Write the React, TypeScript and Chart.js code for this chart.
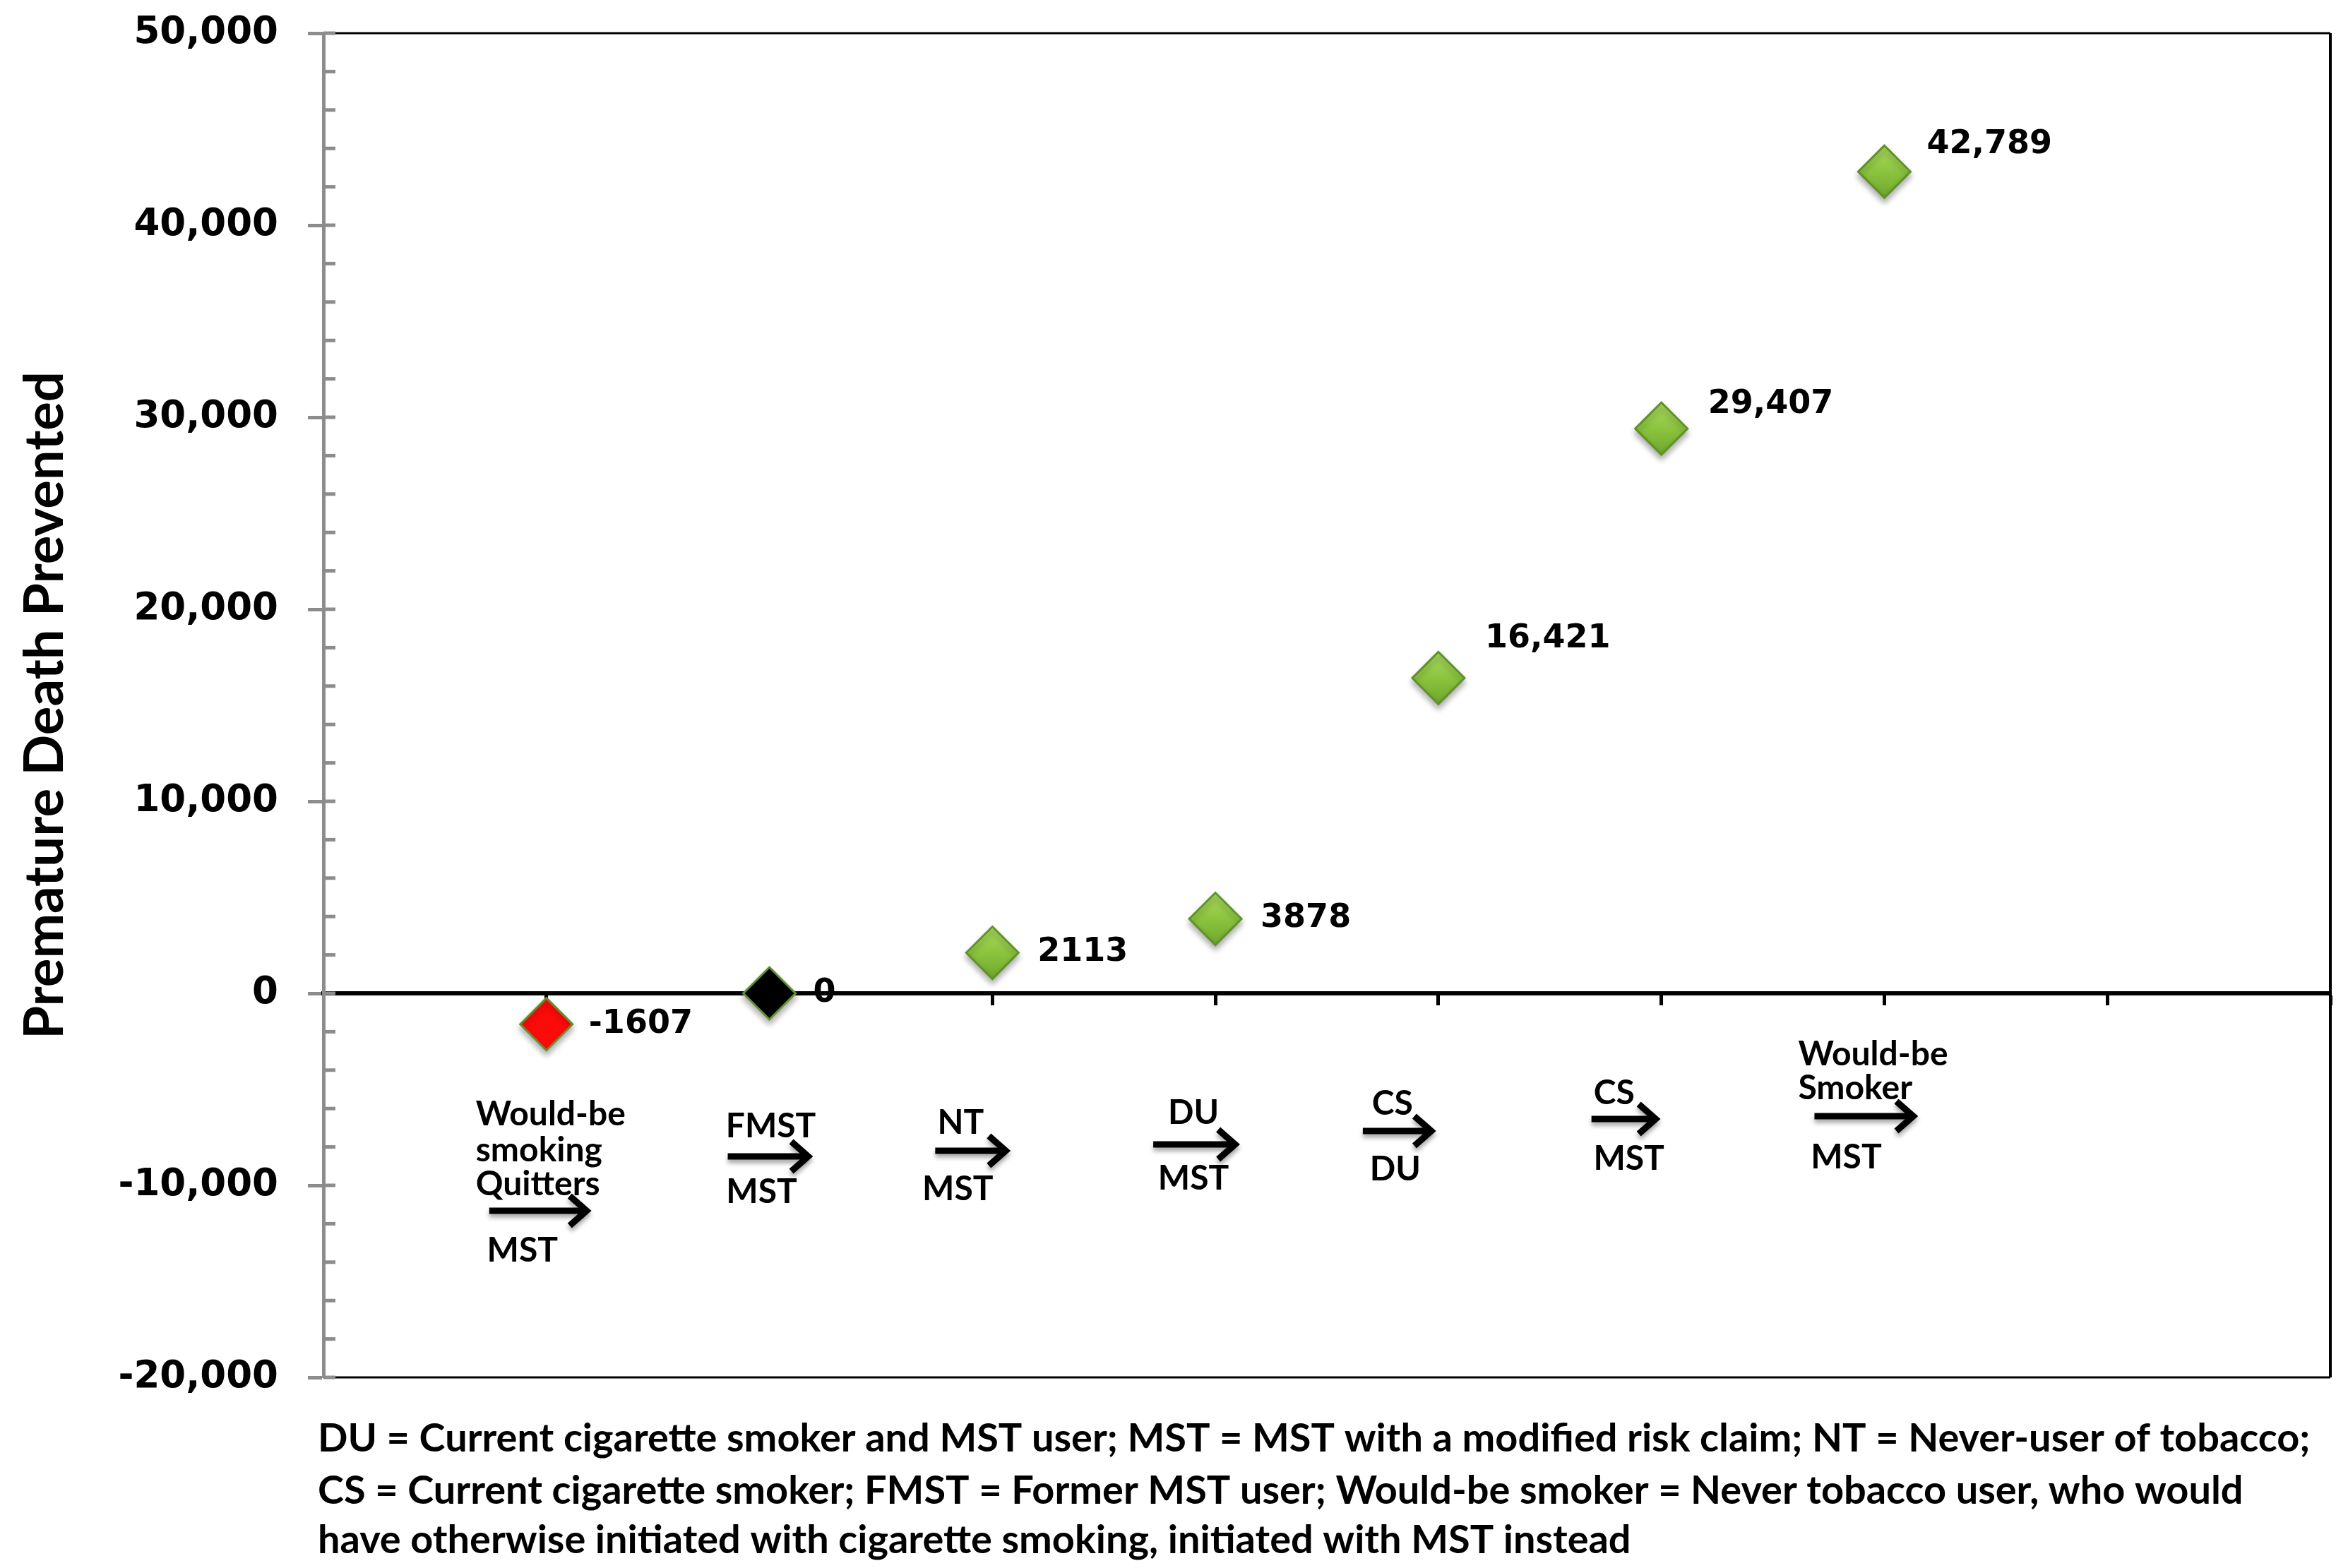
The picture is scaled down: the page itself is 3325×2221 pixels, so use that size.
import React, { useEffect, useRef } from 'react';
import { Chart, registerables } from 'chart.js';

Chart.register(...registerables);

// ---- data ----
const categoryPositions = [1, 2, 3, 4, 5, 6, 7];
const deathsPrevented = [-1607, 0, 2113, 3878, 16421, 29407, 42789];
const valueLabels = ['-1607', '0', '2113', '3878', '16,421', '29,407', '42,789'];
const fromGroups = [
  ['Would-be', 'smoking', 'Quitters'],
  ['FMST'],
  ['NT'],
  ['DU'],
  ['CS'],
  ['CS'],
  ['Would-be', 'Smoker'],
];
const toGroups = ['MST', 'MST', 'MST', 'MST', 'DU', 'MST', 'MST'];
const yMin = -20000;
const yMax = 50000;
const yMinorStep = 2000;
const yMajorStep = 10000;
const xMin = 0;
const xMax = 9;
const yTitle = 'Premature Death Prevented';
const footnoteLines = [
  'DU = Current cigarette smoker and MST user; MST = MST with a modified risk claim; NT = Never-user of tobacco;',
  'CS = Current cigarette smoker; FMST = Former MST user; Would-be smoker = Never tobacco user, who would',
  'have otherwise initiated with cigarette smoking, initiated with MST instead',
];

// ---- styles / layout ----
const pointKind = ['red', 'black', 'green', 'green', 'green', 'green', 'green'];
const labelOffsets = [
  [60, 0], [62, 0], [64, 0], [64, 0], [66, -55], [66, -34], [60, -38],
];
// offsets relative to point x pixel and zero-line y pixel
const annotationLayout = [
  { textX: -100, align: 'left', lineYs: [172, 223, 271], arrow: [-81, 57, 308], toX: -34, toY: 365 },
  { textX: 2, align: 'center', lineYs: [189], arrow: [-59, 55, 231], toX: -11, toY: 282 },
  { textX: -45, align: 'center', lineYs: [184], arrow: [-81, 19, 223], toX: -49, toY: 278 },
  { textX: -31, align: 'center', lineYs: [170], arrow: [-88, 28, 214], toX: -31, toY: 263 },
  { textX: -65, align: 'center', lineYs: [157], arrow: [-107, -10, 195], toX: -61, toY: 250 },
  { textX: -67, align: 'center', lineYs: [142], arrow: [-99, -8, 178], toX: -46, toY: 235 },
  { textX: -122, align: 'left', lineYs: [87, 135], arrow: [-99, 41, 174], toX: -54, toY: 233 },
];
const W = 3325;
const H = 2221;
const POINT_R = 37;
const AXIS_GREY = '#8c8c8c';
const calibriLike = 'Lato, "Open Sans", sans-serif';

function pointFill(c: any) {
  const kind = pointKind[c.dataIndex];
  if (kind === 'red') return '#ff0a0a';
  if (kind === 'black') return '#000000';
  const chart = c.chart;
  const ys = chart.scales && chart.scales.y;
  if (!ys || !c.parsed) return '#8cc43f';
  const py = ys.getPixelForValue(c.parsed.y);
  if (!isFinite(py)) return '#8cc43f';
  const g = chart.ctx.createLinearGradient(0, py - POINT_R, 0, py + POINT_R);
  g.addColorStop(0, '#a9d95f');
  g.addColorStop(0.5, '#8cc43f');
  g.addColorStop(1, '#6ea62c');
  return g;
}

function drawArrow(ctx: CanvasRenderingContext2D, x1: number, x2: number, y: number) {
  ctx.save();
  ctx.strokeStyle = '#000';
  ctx.lineWidth = 9;
  ctx.lineCap = 'butt';
  ctx.lineJoin = 'miter';
  ctx.shadowColor = 'rgba(0,0,0,0.35)';
  ctx.shadowBlur = 6;
  ctx.shadowOffsetY = 5;
  ctx.beginPath();
  ctx.moveTo(x1, y);
  ctx.lineTo(x2 - 5, y);
  ctx.stroke();
  ctx.beginPath();
  ctx.moveTo(x2 - 24, y - 21);
  ctx.lineTo(x2, y);
  ctx.lineTo(x2 - 24, y + 21);
  ctx.stroke();
  ctx.restore();
}

const framePlugin = {
  id: 'frameAndMinorTicks',
  beforeDatasetsDraw(chart: any) {
    const { ctx, chartArea, scales } = chart;
    const { left, right, top, bottom } = chartArea;
    ctx.save();
    ctx.strokeStyle = '#000';
    ctx.lineWidth = 3;
    ctx.beginPath();
    ctx.moveTo(left, top);
    ctx.lineTo(right, top);
    ctx.stroke();
    ctx.beginPath();
    ctx.moveTo(left + 14, bottom);
    ctx.lineTo(right, bottom);
    ctx.stroke();
    ctx.lineWidth = 4;
    ctx.beginPath();
    ctx.moveTo(right, top);
    ctx.lineTo(right, bottom);
    ctx.stroke();
    ctx.strokeStyle = AXIS_GREY;
    ctx.lineWidth = 5;
    const ys = scales.y;
    ys.ticks.forEach((t: any) => {
      const py = ys.getPixelForValue(t.value);
      ctx.beginPath();
      ctx.moveTo(left, py);
      ctx.lineTo(left + 17, py);
      ctx.stroke();
    });
    ctx.restore();
  },
  beforeDatasetDraw(chart: any) {
    const ctx = chart.ctx;
    ctx.save();
    ctx.shadowColor = 'rgba(0,0,0,0.3)';
    ctx.shadowBlur = 8;
    ctx.shadowOffsetY = 6;
  },
  afterDatasetDraw(chart: any) {
    chart.ctx.restore();
  },
};

const textPlugin = {
  id: 'labelsAndNotes',
  afterDatasetsDraw(chart: any) {
    const { ctx, scales } = chart;
    const meta = chart.getDatasetMeta(0);
    ctx.save();
    ctx.fillStyle = '#000';
    ctx.font = 'bold 46px "DejaVu Sans"';
    ctx.textAlign = 'left';
    ctx.textBaseline = 'middle';
    meta.data.forEach((el: any, i: number) => {
      ctx.fillText(valueLabels[i], el.x + labelOffsets[i][0], el.y + labelOffsets[i][1]);
    });
    const zeroY = scales.y.getPixelForValue(0);
    ctx.font = `bold 48px ${calibriLike}`;
    categoryPositions.forEach((c, i) => {
      const px = scales.x.getPixelForValue(c);
      const lay = annotationLayout[i];
      ctx.textAlign = lay.align as CanvasTextAlign;
      fromGroups[i].forEach((line, j) => {
        ctx.fillText(line, px + lay.textX, zeroY + lay.lineYs[j]);
      });
      drawArrow(ctx, px + lay.arrow[0], px + lay.arrow[1], zeroY + lay.arrow[2]);
      ctx.textAlign = 'center';
      ctx.fillText(toGroups[i], px + lay.toX, zeroY + lay.toY);
    });
    ctx.textAlign = 'left';
    ctx.font = `bold 50px ${calibriLike}`;
    const m = ctx.measureText(footnoteLines[0]).width;
    const size = (50 * 2823) / m;
    ctx.font = `bold ${size.toFixed(1)}px ${calibriLike}`;
    const baseYs = [2038, 2112, 2182];
    footnoteLines.forEach((line, i) => {
      ctx.fillText(line, 450, baseYs[i]);
    });
    ctx.restore();
  },
};

export default function App() {
  const canvasRef = useRef<HTMLCanvasElement | null>(null);

  useEffect(() => {
    document.body.style.margin = '0';
    document.body.style.overflow = 'hidden';
    const canvas = canvasRef.current;
    if (!canvas) return;
    const chart = new Chart(canvas, {
      type: 'scatter',
      data: {
        datasets: [
          {
            label: 'Premature deaths prevented',
            data: categoryPositions.map((x, i) => ({ x, y: deathsPrevented[i] })),
            pointStyle: 'rectRot',
            pointRadius: POINT_R,
            pointHoverRadius: POINT_R,
            pointBackgroundColor: pointFill as any,
            pointBorderColor: '#5f9329',
            pointBorderWidth: 3,
            showLine: false,
            clip: false as any,
          },
        ],
      },
      options: {
        animation: false,
        responsive: false,
        maintainAspectRatio: false,
        devicePixelRatio: 1,
        layout: { autoPadding: false, padding: { top: 47, right: 25, bottom: 270, left: 0 } },
        plugins: {
          legend: { display: false },
          tooltip: { enabled: false },
        },
        scales: {
          x: {
            type: 'linear',
            min: xMin,
            max: xMax,
            position: { y: 0 } as any,
            afterFit: (scale: any) => {
              scale.paddingLeft = 0;
              scale.paddingRight = 0;
              scale.paddingTop = 0;
              scale.paddingBottom = 0;
            },
            ticks: { stepSize: 1, display: false },
            grid: {
              drawOnChartArea: false,
              color: '#000',
              tickColor: '#000',
              tickLength: 14,
              tickWidth: 5,
            },
            border: { color: '#000', width: 6 },
          },
          y: {
            type: 'linear',
            min: yMin,
            max: yMax,
            afterFit: (scale: any) => {
              scale.width = 458;
              scale.paddingTop = 0;
              scale.paddingBottom = 0;
              scale.paddingLeft = 0;
              scale.paddingRight = 0;
            },
            ticks: {
              stepSize: yMinorStep,
              autoSkip: false,
              color: '#000',
              padding: 42,
              font: { family: '"DejaVu Sans"', weight: 'bold', size: 53 },
              callback: (v: any) =>
                Number(v) % yMajorStep === 0 ? Number(v).toLocaleString('en-US') : '',
            },
            grid: {
              drawOnChartArea: false,
              tickLength: 22,
              tickWidth: 5,
              tickColor: (c: any) =>
                c.tick && c.tick.value % yMajorStep === 0 ? AXIS_GREY : 'rgba(0,0,0,0)',
            },
            border: { color: AXIS_GREY, width: 5 },
            title: {
              display: true,
              text: yTitle,
              color: '#000',
              padding: { top: 19, bottom: 0 },
              font: { family: calibriLike, weight: 'bold', size: 76 },
            },
          },
        },
      },
      plugins: [framePlugin, textPlugin],
    });
    return () => chart.destroy();
  }, []);

  return (
    <div
      style={{
        position: 'absolute',
        left: 0,
        top: 0,
        width: W,
        height: H,
        background: '#fff',
        overflow: 'hidden',
      }}
    >
      <canvas ref={canvasRef} width={W} height={H} style={{ display: 'block', width: W, height: H }} />
    </div>
  );
}
